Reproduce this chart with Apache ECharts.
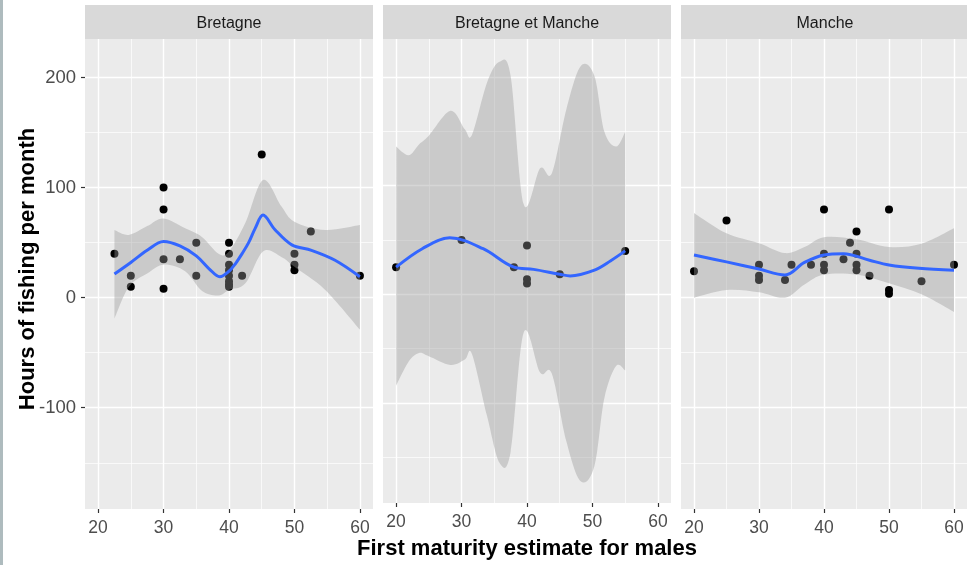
<!DOCTYPE html>
<html>
<head>
<meta charset="utf-8">
<style>
  html, body { margin: 0; padding: 0; background: #ffffff; }
  #chart { width: 967px; height: 565px; }
</style>
<script src="https://cdn.jsdelivr.net/npm/echarts@6/dist/echarts.min.js"></script>
</head>
<body>
<div id="chart"></div>
<script>
// Facet titles
const facets = ['Bretagne', 'Bretagne et Manche', 'Manche'];

// Observations: first maturity estimate (x) vs hours of fishing per month (y)
const bretagneX = [22.5, 25, 25, 30, 30, 30, 30, 32.5, 35, 35, 40, 40, 40, 40, 40, 40, 40, 40, 42, 45, 50, 50, 50, 52.5, 60];
const bretagneY = [40, 20, 10, 100, 80, 35, 8, 35, 50, 20, 50, 40, 30, 25, 20, 15, 12, 10, 20, 130, 40, 30, 25, 60, 20];

const bmX = [20, 30, 38, 40, 40, 40, 45, 55];
const bmY = [25, 50, 25, 45, 14, 10, 18.5, 40];

const mancheX = [20, 25, 30, 30, 30, 34, 35, 38, 40, 40, 40, 40, 43, 44, 45, 45, 45, 45, 47, 50, 50, 50, 55, 60];
const mancheY = [24, 70, 30, 20, 16, 16, 30, 30, 80, 40, 30, 25, 35, 50, 60, 40, 30, 25, 20, 80, 7, 3.5, 15, 30];

// Loess fits
const bretagneFitX = [22.5, 25, 27.5, 30, 32.5, 35, 37, 38.6, 40, 41, 42, 43, 44, 45.2, 47, 49.6, 52.6, 56.2, 60];
const bretagneFit  = [21.5, 32, 43, 51, 47, 38, 26, 19, 24, 31, 40, 50, 63, 75, 62, 48, 43, 34, 19];

const bmFitX = [20, 24, 28.2, 33.3, 38, 41, 45, 46.6, 50.2, 52.8, 55];
const bmFit  = [25, 42, 52, 42, 25, 23, 18.5, 17, 22, 31, 40];

const mancheFitX = [20, 25, 30, 34, 37, 40, 43, 47, 50, 54.6, 60];
const mancheFit  = [38.8, 32.5, 26, 20.6, 32, 38.8, 40, 34, 29.7, 26.7, 25];

// Confidence bands of the fits
const bretagneBandX = [22.5, 24.7, 27.5, 30, 33.3, 35.9, 38.4, 40, 42.5, 45.2, 48, 50, 54.7, 60];
const bretagneUpper = [61.5, 57, 65, 72, 63, 55, 40, 42, 68, 107, 83, 69, 61.5, 66];
const bretagneLower = [-19, 10, 22, 30, 24, 6, 2, 7, 13, 42, 37, 28, 7, -29];

const bmBandX = [20, 21.9, 23.5, 25, 28.3, 30.5, 31.6, 33.9, 35.8, 37.5, 39.5, 42, 43.8, 46, 48.2, 50.3, 51.8, 53.6, 55];
const bmUpper = [136, 128, 138, 146, 169, 152, 147, 195, 214, 201, 83, 116, 111.5, 170, 210, 201, 150, 136, 149.5];
const bmLower = [-84, -62, -54, -57, -65, -60, -55, -112, -155, -145, -35, -72, -73, -135, -172, -158, -96, -66, -70];

const mancheBandX = [20, 25, 30, 34, 37, 40, 45, 50, 55, 60];
const mancheUpper = [77, 58.5, 49.5, 40.5, 46, 55, 53, 46, 49, 63];
const mancheLower = [0, 7, 5, 0, 12, 21, 21, 13, 3, -13];

// Tick labels
const xTicks = [20, 30, 40, 50, 60];
const yTicks = [-100, 0, 100, 200];

const panels = [
  { x: bretagneX, y: bretagneY, fx: bretagneFitX, f: bretagneFit, bx: bretagneBandX, up: bretagneUpper, lo: bretagneLower },
  { x: bmX, y: bmY, fx: bmFitX, f: bmFit, bx: bmBandX, up: bmUpper, lo: bmLower },
  { x: mancheX, y: mancheY, fx: mancheFitX, f: mancheFit, bx: mancheBandX, up: mancheUpper, lo: mancheLower }
];

// Layout of the facet panels
const PANEL_LEFT = [85, 383, 681];
const PANEL_W = 288;
const PANEL_TOP = 39;
const PANEL_H = 470;
const STRIP_TOP = 5;
const STRIP_H = 34;

const FONT = '"Liberation Sans", Arial, sans-serif';
const pairs = (xs, ys) => xs.map((v, i) => [v, ys[i]]);

// Catmull-Rom spline through pixel points, as SVG path commands (without the initial move)
function splineSegments(pts) {
  let d = '';
  for (let i = 0; i < pts.length - 1; i++) {
    const p0 = pts[Math.max(i - 1, 0)], p1 = pts[i], p2 = pts[i + 1], p3 = pts[Math.min(i + 2, pts.length - 1)];
    const c1x = p1[0] + (p2[0] - p0[0]) / 6, c1y = p1[1] + (p2[1] - p0[1]) / 6;
    const c2x = p2[0] - (p3[0] - p1[0]) / 6, c2y = p2[1] - (p3[1] - p1[1]) / 6;
    d += ` C${c1x},${c1y} ${c2x},${c2y} ${p2[0]},${p2[1]}`;
  }
  return d;
}

const grids = [], xAxes = [], yAxes = [], series = [], graphics = [];

panels.forEach((p, i) => {
  grids.push({
    left: PANEL_LEFT[i], top: PANEL_TOP, width: PANEL_W, height: PANEL_H,
    show: true, backgroundColor: '#EBEBEB', borderWidth: 0, containLabel: false
  });
  xAxes.push({
    type: 'value', gridIndex: i, min: 18, max: 62,
    minInterval: 10, maxInterval: 10,
    axisLine: { show: false, onZero: false },
    axisTick: { show: true, length: 4, lineStyle: { color: '#333333', width: 1.2 }, customValues: xTicks },
    axisLabel: { show: true, customValues: xTicks, fontFamily: FONT, fontSize: 17.5, color: '#4D4D4D', margin: 10 },
    splitLine: { show: true, lineStyle: { color: '#FFFFFF', width: 1.4 } },
    minorTick: { show: false, splitNumber: 2 },
    minorSplitLine: { show: true, lineStyle: { color: '#FFFFFF', width: 0.7 } },
    name: i === 1 ? 'First maturity estimate for males' : '',
    nameLocation: 'middle', nameGap: 35, nameMoveOverlap: false,
    nameTextStyle: { fontFamily: FONT, fontSize: 22, fontWeight: 'bold', color: '#000000' }
  });
  yAxes.push({
    type: 'value', gridIndex: i, min: -192, max: 235,
    minInterval: 100, maxInterval: 100,
    axisLine: { show: false, onZero: false },
    axisTick: { show: i === 0, length: 4, lineStyle: { color: '#333333', width: 1.2 }, customValues: yTicks },
    axisLabel: { show: i === 0, customValues: yTicks, fontFamily: FONT, fontSize: 18.5, color: '#4D4D4D', margin: 9 },
    splitLine: { show: true, lineStyle: { color: '#FFFFFF', width: 1.4 } },
    minorTick: { show: false, splitNumber: 2 },
    minorSplitLine: { show: true, lineStyle: { color: '#FFFFFF', width: 0.7 } },
    name: i === 0 ? 'Hours of fishing per month' : '',
    nameLocation: 'middle', nameGap: 46, nameMoveOverlap: false,
    nameTextStyle: { fontFamily: FONT, fontSize: 22, fontWeight: 'bold', color: '#000000', padding: [0, 0, 0, 10] }
  });

  // observations
  series.push({
    type: 'scatter', xAxisIndex: i, yAxisIndex: i, z: 2,
    data: pairs(p.x, p.y), symbolSize: 8,
    itemStyle: { color: '#000000', opacity: 1 }, silent: true
  });
  // confidence band, drawn as one smooth closed shape through the axis scales
  series.push({
    type: 'custom', xAxisIndex: i, yAxisIndex: i, z: 3, silent: true,
    data: p.bx.map((x, k) => [x, p.up[k], p.lo[k]]),
    encode: { x: 0, y: [1, 2] },
    renderItem: function (params, api) {
      if (params.dataIndex !== 0) return null;
      const upPts = p.bx.map((x, k) => api.coord([x, p.up[k]]));
      const loPts = p.bx.map((x, k) => api.coord([x, p.lo[k]])).reverse();
      let d = `M${upPts[0][0]},${upPts[0][1]}` + splineSegments(upPts);
      d += ` L${loPts[0][0]},${loPts[0][1]}` + splineSegments(loPts) + ' Z';
      return {
        type: 'path',
        shape: { pathData: d },
        style: { fill: 'rgba(153,153,153,0.4)', stroke: null }
      };
    }
  });
  // fitted curve
  series.push({
    type: 'line', xAxisIndex: i, yAxisIndex: i, z: 4,
    data: pairs(p.fx, p.f), smooth: 0.35, showSymbol: false,
    lineStyle: { color: '#3366FF', width: 3 }, silent: true
  });

  // facet strip
  graphics.push({
    type: 'rect', left: PANEL_LEFT[i], top: STRIP_TOP,
    shape: { width: PANEL_W, height: STRIP_H }, style: { fill: '#D9D9D9' }, silent: true
  });
  graphics.push({
    type: 'text', x: PANEL_LEFT[i] + PANEL_W / 2, y: STRIP_TOP + STRIP_H / 2 + 1.5,
    style: { text: facets[i], fontFamily: FONT, fontSize: 16, fill: '#1A1A1A', align: 'center', verticalAlign: 'middle' },
    silent: true
  });
});

// thin frame on the left edge of the figure
graphics.push({ type: 'rect', left: 0, top: 0, shape: { width: 3, height: 565 }, style: { fill: '#AEBBBE' }, silent: true });

const chart = echarts.init(document.getElementById('chart'), null, { renderer: 'canvas' });
chart.setOption({
  animation: false,
  backgroundColor: '#FFFFFF',
  grid: grids,
  xAxis: xAxes,
  yAxis: yAxes,
  series: series,
  graphic: graphics
});
</script>
</body>
</html>
